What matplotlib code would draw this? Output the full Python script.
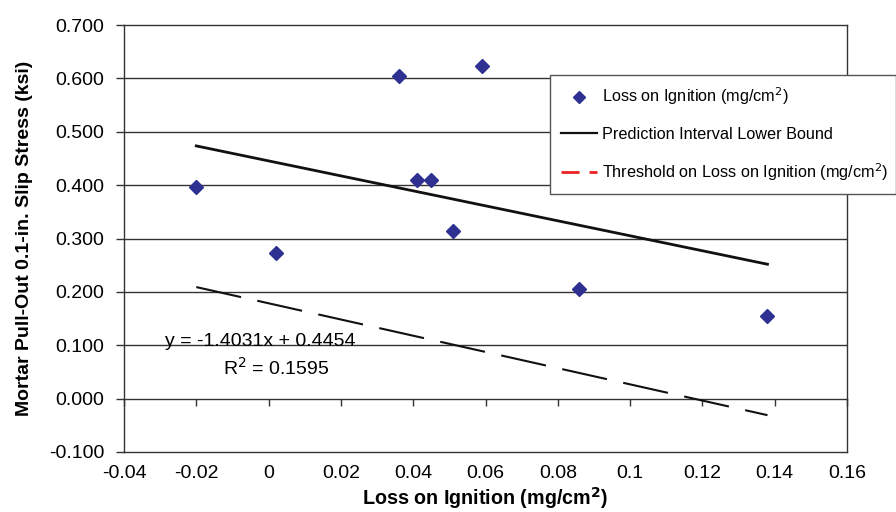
import matplotlib
matplotlib.use("Agg")
import matplotlib.pyplot as plt
from matplotlib.lines import Line2D

plt.rcParams['font.family'] = ['Liberation Sans', 'DejaVu Sans']

# Measured samples
loi = [-0.020, 0.002, 0.036, 0.059, 0.041, 0.045, 0.051, 0.086, 0.138]
stress = [0.396, 0.273, 0.604, 0.623, 0.409, 0.409, 0.314, 0.205, 0.155]

# Linear fit and lower prediction bound endpoints
fit_x = [-0.020, 0.138]
slope, intercept = -1.4031, 0.4454
r_squared = 0.1595
lower_y = [0.209, -0.031]

x_ticks = [-0.04, -0.02, 0, 0.02, 0.04, 0.06, 0.08, 0.1, 0.12, 0.14, 0.16]
x_tick_labels = ['-0.04', '-0.02', '0', '0.02', '0.04', '0.06', '0.08', '0.1', '0.12', '0.14', '0.16']
y_ticks = [-0.1, 0.0, 0.1, 0.2, 0.3, 0.4, 0.5, 0.6, 0.7]

fig = plt.figure(figsize=(8.96, 5.12), dpi=100)
ax = fig.add_axes([124/896, 1 - 452/512, (847 - 124)/896, (452 - 25)/512])

edge = '#333333'
for y in y_ticks[2:-1]:
    ax.axhline(y, color=edge, lw=1.0, zorder=1)

fit_y = [slope * x + intercept for x in fit_x]
ax.plot(fit_x, fit_y, color='#111111', lw=2.0, zorder=3)
ax.plot(fit_x, lower_y, color='#111111', lw=1.5, zorder=3,
        linestyle=(0, (22, 8)))
ax.plot(loi, stress, linestyle='none', marker='D', ms=7.2,
        color='#2E3192', zorder=4)

ax.set_xlim(-0.04, 0.16)
ax.set_ylim(-0.1, 0.7)

# Horizontal axis crosses at zero; labels stay at the bottom edge
ax.spines['bottom'].set_position(('data', 0))
for s in ax.spines.values():
    s.set_color(edge)
    s.set_linewidth(1.0)
ax.set_xticks(x_ticks)
ax.tick_params(axis='x', direction='out', length=5, width=1, color=edge,
               labelbottom=False)
ax.set_yticks(y_ticks)
ax.set_yticklabels([f'{v:.3f}' for v in y_ticks])
ax.tick_params(axis='y', direction='out', length=6, width=1, color=edge,
               labelsize=14, pad=8)

sec = ax.secondary_xaxis('bottom')
sec.set_xticks(x_ticks)
sec.set_xticklabels(x_tick_labels)
sec.tick_params(length=0, labelsize=14, pad=9.5)
sec.spines['bottom'].set_color(edge)
sec.spines['bottom'].set_linewidth(1.0)

sec.set_xlabel('Loss on Ignition (mg/cm$^\\mathbf{2}$)', fontsize=14.2,
               fontweight='bold', labelpad=2)
ax.set_ylabel('Mortar Pull-Out 0.1-in. Slip Stress (ksi)', fontsize=14,
              fontweight='bold', labelpad=12)

ax.text(-0.0022, 0.107, f'y = {slope}x + {intercept}', fontsize=14,
        ha='center', va='center', zorder=5)
ax.text(0.002, 0.057, f'R$^2$ = {r_squared}', fontsize=14,
        ha='center', va='center', zorder=5)

handles = [
    Line2D([], [], linestyle='none', marker='D', ms=6.5, color='#2E3192'),
    Line2D([], [], color='#111111', lw=1.6),
    Line2D([], [], color='#ee2222', lw=2.0, linestyle=(0, (6.5, 3.6))),
]
labels = ['Loss on Ignition (mg/cm$^2$)', 'Prediction Interval Lower Bound',
          'Threshold on Loss on Ignition (mg/cm$^2$)']
leg = fig.legend(handles, labels, loc='upper left',
                 bbox_to_anchor=(550/896, 1 - 75/512, 346/896, 0.0),
                 mode='expand', fontsize=11.7, frameon=True, fancybox=False,
                 framealpha=1, edgecolor='#555555', handlelength=2.25,
                 handletextpad=0.3, labelspacing=1.2, borderpad=0.65,
                 borderaxespad=0)
leg.get_frame().set_linewidth(1.0)

fig.savefig('out.png', dpi=100)
